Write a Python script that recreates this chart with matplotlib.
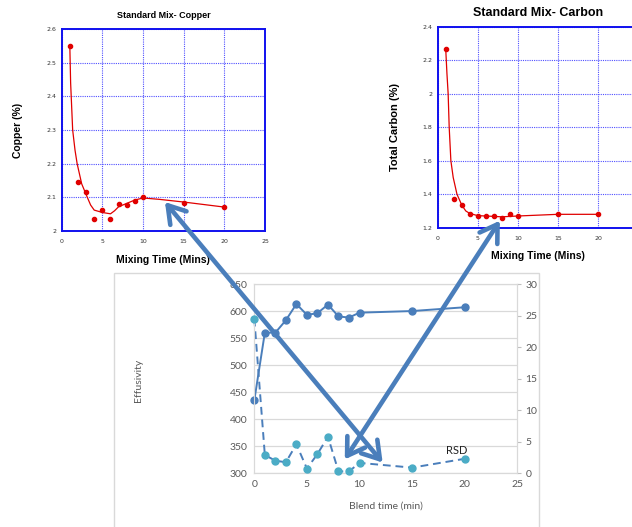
import matplotlib
matplotlib.use("Agg")
import matplotlib.pyplot as plt
from matplotlib.patches import ConnectionPatch, Rectangle

# ---- data ----
copper_t = [1, 2, 3, 4, 5, 6, 7, 8, 9, 10, 15, 20]
copper_pct = [2.55, 2.145, 2.117, 2.037, 2.061, 2.035, 2.081, 2.076, 2.088, 2.100, 2.084, 2.071]
copper_fit_t = [1, 1.1, 1.35, 1.64, 1.9, 2.46, 3.15, 3.56, 4, 5, 6, 6.5, 7, 8, 9, 10, 12, 15, 20]
copper_fit = [2.55, 2.44, 2.30, 2.24, 2.20, 2.14, 2.10, 2.077, 2.062, 2.055, 2.051, 2.06, 2.072,
              2.082, 2.092, 2.098, 2.094, 2.086, 2.071]

carbon_t = [1, 2, 3, 4, 5, 6, 7, 8, 9, 10, 15, 20]
carbon_pct = [2.265, 1.37, 1.333, 1.28, 1.27, 1.27, 1.27, 1.26, 1.28, 1.27, 1.28, 1.28]
carbon_fit_t = [1, 1.15, 1.3, 1.43, 1.64, 1.93, 2.4, 3, 3.5, 4, 5, 6, 8, 10, 15, 20]
carbon_fit = [2.265, 2.12, 2.0, 1.8, 1.6, 1.5, 1.4, 1.335, 1.30, 1.285, 1.272, 1.27, 1.265,
              1.27, 1.28, 1.28]

blend_t = [0, 1, 2, 3, 4, 5, 6, 7, 8, 9, 10, 15, 20]
effusivity = [435, 560, 560, 583, 613, 593, 596, 612, 590, 588, 597, 600, 607]
rsd = [24.5, 2.9, 2.0, 1.75, 4.6, 0.75, 3.05, 5.8, 0.3, 0.3, 1.65, 0.9, 2.3]

RED = "#e00000"
FRAME = "#1010ee"
GRIDB = "#5050ff"
ARROW = "#4a7ebb"
GREY = "#595959"

fig = plt.figure(figsize=(6.32, 5.27), dpi=100)


def small_chart(ax, t, v, ft, fv, ylim, yticks, xticks):
    ax.plot(ft, fv, color=RED, lw=0.9, zorder=3)
    ax.plot(t, v, "o", color=RED, ms=3, zorder=4)
    ax.set_xlim(0, 25)
    ax.set_ylim(*ylim)
    ax.set_xticks(xticks)
    ax.set_yticks(yticks)
    ax.set_yticklabels(["%g" % y for y in yticks])
    ax.grid(True, color=GRIDB, ls=(0, (1, 1)), lw=0.8)
    ax.tick_params(length=0, labelsize=4.5, colors="#333333")
    ax.tick_params(axis="x", pad=6)
    ax.tick_params(axis="y", pad=4)
    for s in ax.spines.values():
        s.set_color(FRAME)
        s.set_linewidth(1.4)


# copper
ax_cu = fig.add_axes([0.0976, 0.5617, 0.3217, 0.3833])
small_chart(ax_cu, copper_t, copper_pct, copper_fit_t, copper_fit, (2.0, 2.6),
            [2.0, 2.1, 2.2, 2.3, 2.4, 2.5, 2.6], [0, 5, 10, 15, 20, 25])
ax_cu.text(0.5, 1.069, "Standard Mix- Copper", transform=ax_cu.transAxes, ha="center",
           va="center", fontsize=6.5, fontweight="bold", family="Liberation Sans")
ax_cu.text(-0.215, 0.5, "Copper (%)", transform=ax_cu.transAxes, ha="center", va="center",
           rotation=90, fontsize=7.5, fontweight="bold", family="Liberation Sans")
ax_cu.text(0.5, -0.144, "Mixing Time (Mins)", transform=ax_cu.transAxes, ha="center",
           va="center", fontsize=7.5, fontweight="bold", family="Liberation Sans")

# carbon (runs off the right edge)
ax_c = fig.add_axes([0.6926, 0.5679, 0.3172, 0.3814])
small_chart(ax_c, carbon_t, carbon_pct, carbon_fit_t, carbon_fit, (1.2, 2.4),
            [1.2, 1.4, 1.6, 1.8, 2.0, 2.2, 2.4], [0, 5, 10, 15, 20])
ax_c.axvline(25, color=GRIDB, ls=(0, (1, 1)), lw=0.8)
ax_c.text(0.5, 1.068, "Standard Mix- Carbon", transform=ax_c.transAxes, ha="center",
          va="center", fontsize=9, fontweight="bold", family="Liberation Sans")
ax_c.text(-0.213, 0.5, "Total Carbon (%)", transform=ax_c.transAxes, ha="center", va="center",
          rotation=90, fontsize=8, fontweight="bold", family="Liberation Sans")
ax_c.text(0.5, -0.141, "Mixing Time (Mins)", transform=ax_c.transAxes, ha="center",
          va="center", fontsize=7.5, fontweight="bold", family="Liberation Sans")

# effusivity / RSD chart
fig.add_artist(Rectangle((0.1804, -0.01), 0.6724, 0.492, transform=fig.transFigure,
                         fill=False, edgecolor="#d9d9d9", lw=1))
ax_e = fig.add_axes([0.4024, 0.1019, 0.4161, 0.3592])
ax_r = ax_e.twinx()
ax_e.plot(blend_t, effusivity, "o-", color=ARROW, lw=1.4, ms=5, zorder=3, clip_on=False)
ax_r.plot(blend_t, rsd, color=ARROW, lw=1.4, ls=(0, (4, 2.5)), zorder=2, clip_on=False)
ax_r.plot(blend_t, rsd, "o", color="#4bacc6", ms=5, zorder=3, clip_on=False)
ax_e.set_xlim(0, 25)
ax_e.set_ylim(300, 650)
ax_r.set_ylim(0, 30)
ax_e.set_xticks([0, 5, 10, 15, 20, 25])
ax_e.set_yticks(range(300, 651, 50))
ax_r.set_yticks(range(0, 31, 5))
ax_e.yaxis.grid(True, color="#d9d9d9", lw=0.9)
ax_e.set_axisbelow(True)
ax_e.tick_params(length=0, labelsize=7.5, labelcolor=GREY, pad=5)
ax_r.tick_params(length=3, color="#bfbfbf", labelsize=7.5, labelcolor=GREY, pad=3)
for a in (ax_e, ax_r):
    for s in a.spines.values():
        s.set_color("#d9d9d9")
ax_e.text(-0.442, 0.493, "Effusivity", transform=ax_e.transAxes, rotation=90, ha="center",
          va="center", fontsize=7.5, color=GREY, family="Lato")
ax_e.text(0.5, -0.173, "Blend time (min)", transform=ax_e.transAxes, ha="center",
          va="center", fontsize=7.5, color=GREY, family="Lato")
ax_r.text(19.2, 3.6, "RSD", fontsize=8, color="#222222", ha="center", va="center",
          family="Lato")
for lab in ax_e.get_xticklabels() + ax_e.get_yticklabels() + ax_r.get_yticklabels():
    lab.set_family("Lato")

# arrows linking the small charts to the blend chart
for xa, axa, xb in [((12.7, 2.086), ax_cu, (12.2, 1.7)), ((7.75, 1.242), ax_c, (8.6, 2.2))]:
    con = ConnectionPatch(xyA=xa, coordsA=axa.transData, xyB=xb, coordsB=ax_r.transData,
                          arrowstyle="<->,head_length=0.6,head_width=0.38",
                          mutation_scale=20, lw=3.3, color=ARROW, zorder=20)
    con.set_clip_on(False)
    fig.add_artist(con)

fig.savefig("out.png", dpi=100)
